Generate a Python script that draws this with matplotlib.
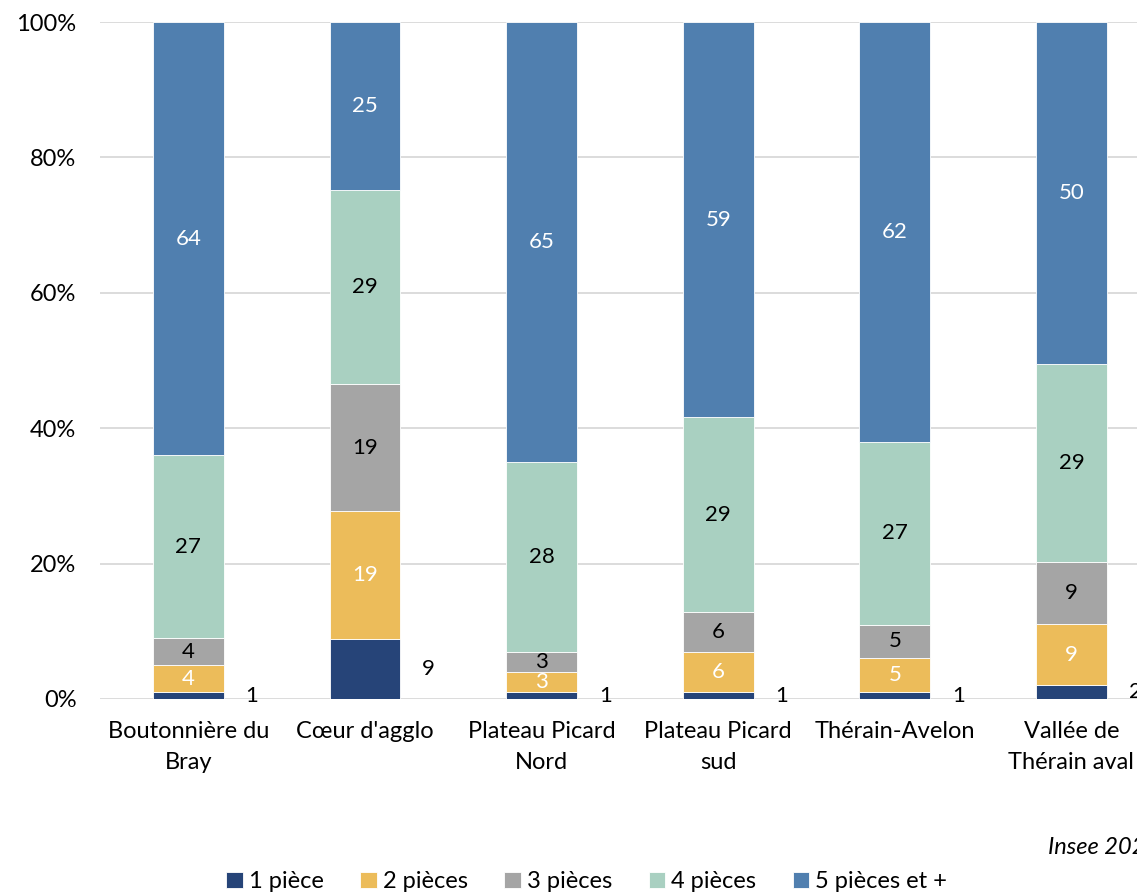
import numpy as np
import matplotlib
matplotlib.use('Agg')
import matplotlib.pyplot as plt

plt.rcParams['font.family'] = ['Lato', 'DejaVu Sans']

# Données : répartition des résidences principales par nombre de pièces (%)
territoires = ['Boutonnière du\nBray', "Cœur d'agglo", 'Plateau Picard\nNord',
               'Plateau Picard\nsud', 'Thérain-Avelon', 'Vallée de\nThérain aval']
series = ['1 pièce', '2 pièces', '3 pièces', '4 pièces', '5 pièces et +']
p1 = [1, 9, 1, 1, 1, 2]
p2 = [4, 19, 3, 6, 5, 9]
p3 = [4, 19, 3, 6, 5, 9]
p4 = [27, 29, 28, 29, 27, 29]
p5 = [64, 25, 65, 59, 62, 50]

couleurs = ['#264478', '#ECBC5A', '#A5A5A5', '#A9D0C1', '#507FAF']
couleurs_texte = ['black', 'white', 'black', 'black', 'white']

valeurs = np.array([p1, p2, p3, p4, p5], dtype=float)
parts = valeurs / valeurs.sum(axis=0) * 100

fig = plt.figure(figsize=(11.37, 8.92), dpi=100)
ax = fig.add_axes([0.088, 0.2164, 0.932, 0.7589])

x = np.arange(len(territoires))
bas = np.zeros(len(territoires))
for i, nom in enumerate(series):
    ax.bar(x, parts[i], 0.4, bottom=bas, color=couleurs[i], label=nom,
           edgecolor='white', linewidth=0.6, zorder=3)
    for j in range(len(territoires)):
        y = bas[j] + parts[i][j] / 2
        if i == 0:
            # étiquette du 1 pièce placée à droite de la barre
            ax.text(x[j] + 0.36, y, f'{int(valeurs[i][j])}', ha='center', va='center',
                    fontsize=16, color='black')
        else:
            ax.text(x[j], y, f'{int(valeurs[i][j])}', ha='center', va='center',
                    fontsize=16, color=couleurs_texte[i])
    bas += parts[i]

ax.set_xlim(-0.5, len(territoires) - 0.5)
ax.set_ylim(0, 100)
ax.set_yticks(np.arange(0, 101, 20))
ax.set_yticklabels([f'{v}%' for v in range(0, 101, 20)], fontsize=17)
ax.set_xticks(x)
ax.set_xticklabels(territoires, fontsize=17, linespacing=1.55)
ax.tick_params(axis='y', length=0, pad=17)
ax.tick_params(axis='x', length=0, pad=16)
ax.grid(axis='y', color='#d9d9d9', linewidth=1.3, zorder=0)
for s in ax.spines.values():
    s.set_visible(False)

fig.text(1048 / 1137, 1 - 848 / 892, 'Insee 2020', fontsize=17, style='italic',
         ha='left', va='center')

fig.legend(loc='lower center', bbox_to_anchor=(0.516, -0.024), ncol=5, frameon=False,
           fontsize=17, handlelength=0.7, handleheight=0.7, handletextpad=0.25,
           columnspacing=1.55)

fig.savefig('out.png', dpi=100)
